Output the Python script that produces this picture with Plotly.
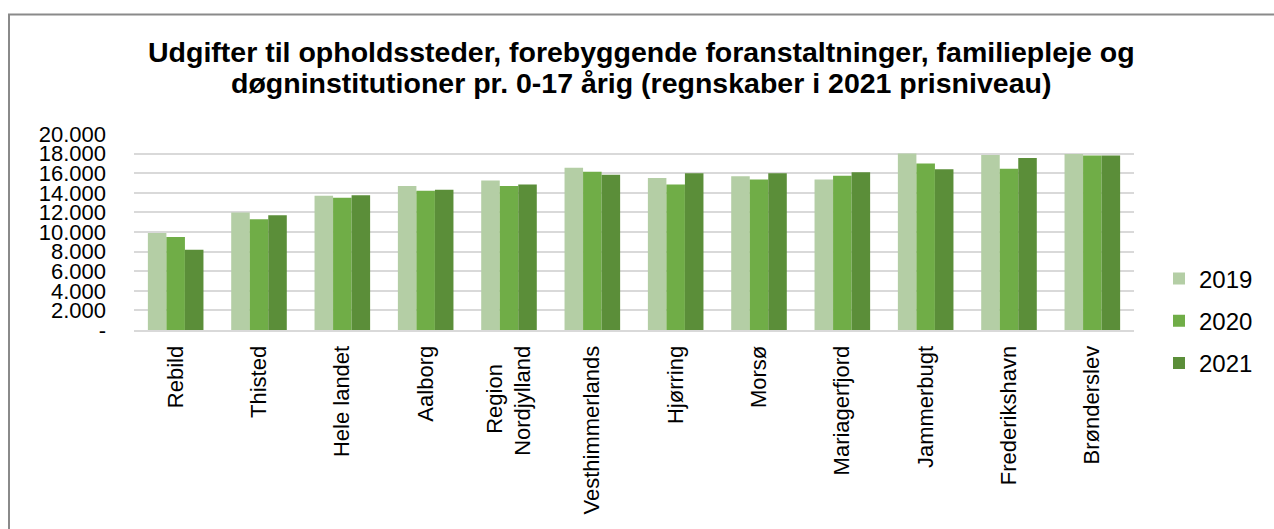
import plotly.graph_objects as go

categories = ["Rebild", "Thisted", "Hele landet", "Aalborg", "Region Nordjylland",
              "Vesthimmerlands", "Hjørring", "Morsø", "Mariagerfjord", "Jammerbugt",
              "Frederikshavn", "Brønderslev"]
category_labels = ["Rebild", "Thisted", "Hele landet", "Aalborg",
                   "Region\u00a0\u00a0\u00a0<br>Nordjylland",
                   "Vesthimmerlands", "Hjørring", "Morsø", "Mariagerfjord", "Jammerbugt",
                   "Frederikshavn", "Brønderslev"]
v2019 = [9900, 12000, 13700, 14700, 15250, 16550, 15500, 15700, 15350, 18000, 17850, 17950]
v2020 = [9500, 11300, 13500, 14200, 14700, 16150, 14850, 15350, 15750, 17000, 16450, 17800]
v2021 = [8200, 11700, 13750, 14300, 14850, 15850, 16000, 16000, 16100, 16400, 17550, 17800]
years = ["2019", "2020", "2021"]
colors = ["#B4CEA5", "#70AD47", "#5B8E39"]
tick_vals = [0, 2000, 4000, 6000, 8000, 10000, 12000, 14000, 16000, 18000, 20000]
tick_text = ["-", "2.000", "4.000", "6.000", "8.000", "10.000", "12.000", "14.000",
             "16.000", "18.000", "20.000"]
title_lines = ["Udgifter til opholdssteder, forebyggende foranstaltninger, familiepleje og",
               "døgninstitutioner pr. 0-17 årig (regnskaber i 2021 prisniveau)"]

FONT = "Liberation Sans, Arial, sans-serif"

fig = go.Figure()
for name, vals, col in zip(years, [v2019, v2020, v2021], colors):
    fig.add_trace(go.Bar(x=categories, y=vals, name=name, marker_color=col,
                         marker_line_width=0, legendgroup=name))

# plot area: x 134..1134 px, y 134..330 px
def py(p):
    return (330 - p) / 196

def px(p):
    return (p - 134) / 1000

annotations = [
    dict(text=title_lines[0], xref="paper", yref="paper", x=px(641), y=py(52),
         xanchor="center", yanchor="middle", showarrow=False,
         font=dict(family=FONT, size=28.5, weight="bold", color="#000000")),
    dict(text=title_lines[1], xref="paper", yref="paper", x=px(641), y=py(83),
         xanchor="center", yanchor="middle", showarrow=False,
         font=dict(family=FONT, size=28.5, weight="bold", color="#000000")),
]

fig.update_layout(
    width=1274, height=529,
    margin=dict(l=134, r=140, t=134, b=199),
    paper_bgcolor="white", plot_bgcolor="white",
    barmode="group", bargap=0.333, bargroupgap=0,
    font=dict(family=FONT, color="#000000", size=22),
    annotations=annotations,
    showlegend=True,
    legend=dict(x=1.025, xanchor="left", y=0.046, yanchor="middle",
                font=dict(family=FONT, size=24, color="#000000"),
                tracegroupgap=8, bgcolor="rgba(0,0,0,0)"),
    xaxis=dict(tickangle=-90, showgrid=False, ticks="", showline=True,
               linecolor="#D9D9D9", linewidth=2, ticklabelstandoff=5,
               tickvals=categories, ticktext=category_labels,
               tickfont=dict(family=FONT, size=22, color="#000000")),
    yaxis=dict(range=[0, 20000], tickvals=tick_vals, ticktext=tick_text,
               showgrid=True, gridcolor="#D9D9D9", gridwidth=2, zeroline=False,
               ticks="", showline=False, ticklabelstandoff=27,
               tickfont=dict(family=FONT, size=22, color="#000000")),
    shapes=[dict(type="rect", xref="paper", yref="paper",
                 x0=px(9), x1=px(1290),
                 y0=py(560), y1=py(14.5),
                 line=dict(color="#8A8A8A", width=2), fillcolor="rgba(0,0,0,0)",
                 layer="below")],
)

fig.write_html("out.html", config={"displayModeBar": False},
               post_script="document.body.style.margin='0';")
